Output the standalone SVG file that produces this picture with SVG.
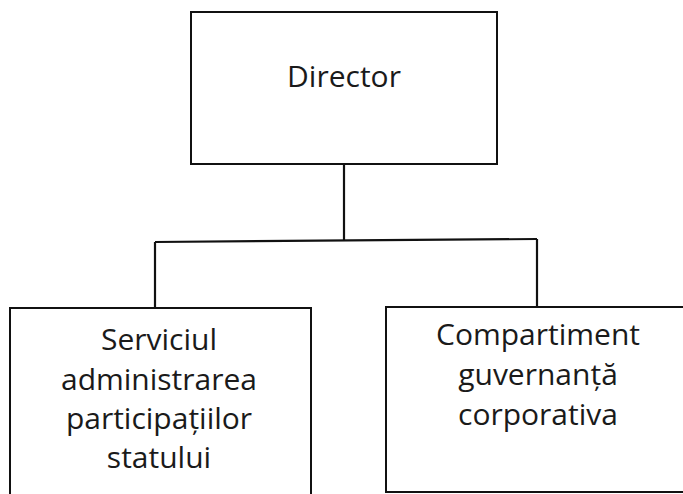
<svg xmlns="http://www.w3.org/2000/svg" width="683" height="494" viewBox="0 0 683 494">
<style>
.box{fill:#fff;stroke:#111;stroke-width:2}
.lbl{font-family:"Open Sans","DejaVu Sans",sans-serif;font-size:30px;fill:#1a1a1a;text-anchor:middle}
.conn{stroke:#111;stroke-width:2.2;fill:none}
</style>
<rect width="683" height="494" fill="#fff"/>
<g id="connectors">
<path class="conn" d="M344,164 V240"/>
<path class="conn" d="M155,242 L537,239"/>
<path class="conn" d="M155,242 V308"/>
<path class="conn" d="M537,239 V307"/>
</g>
<g id="director">
<rect class="box" x="191" y="12" width="306" height="152"/>
<text class="lbl" x="344" y="87">Director</text>
</g>
<g id="serviciul">
<rect class="box" x="10" y="308" width="301" height="200"/>
<text class="lbl" x="159" y="350">Serviciul</text>
<text class="lbl" x="159" y="390">administrarea</text>
<text class="lbl" x="159" y="429">participațiilor</text>
<text class="lbl" x="159" y="468">statului</text>
</g>
<g id="compartiment">
<rect class="box" x="386" y="307" width="310" height="185"/>
<text class="lbl" x="538" y="345">Compartiment</text>
<text class="lbl" x="538" y="385">guvernanță</text>
<text class="lbl" x="538" y="425">corporativa</text>
</g>
</svg>
